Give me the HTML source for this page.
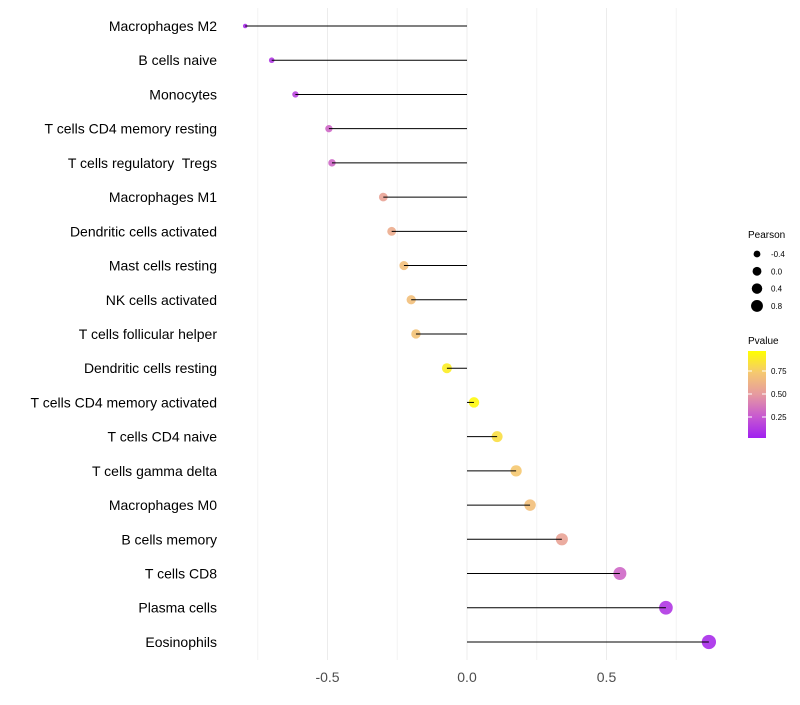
<!DOCTYPE html>
<html><head><meta charset="utf-8"><style>
body{margin:0;background:#fff;font-family:"Liberation Sans",sans-serif}
text{white-space:pre}
</style></head><body>
<svg id="chart" width="800" height="700" xmlns="http://www.w3.org/2000/svg" font-family="Liberation Sans, sans-serif">
<defs><linearGradient id="pg" x1="0" y1="1" x2="0" y2="0">
<stop offset="0" stop-color="#a020f0"/><stop offset="0.25" stop-color="#c85ad0"/><stop offset="0.5" stop-color="#e69aa0"/><stop offset="0.75" stop-color="#f5c870"/><stop offset="1" stop-color="#ffff00"/></linearGradient></defs>
<g id="grid"></g><g id="dots"></g><g id="marks"></g><g id="labels"></g><g id="legend"></g>
</svg>
<script>
const categories=["Macrophages M2","B cells naive","Monocytes","T cells CD4 memory resting","T cells regulatory  Tregs","Macrophages M1","Dendritic cells activated","Mast cells resting","NK cells activated","T cells follicular helper","Dendritic cells resting","T cells CD4 memory activated","T cells CD4 naive","T cells gamma delta","Macrophages M0","B cells memory","T cells CD8","Plasma cells","Eosinophils"];
const pearson=[-0.795,-0.70,-0.615,-0.495,-0.484,-0.30,-0.27,-0.226,-0.20,-0.183,-0.072,0.025,0.108,0.176,0.226,0.34,0.548,0.713,0.867];
const pvalue=[0.05,0.1,0.15,0.3,0.3,0.55,0.6,0.7,0.7,0.72,0.92,0.97,0.85,0.75,0.7,0.55,0.3,0.1,0.05];
const xTicks=[-0.5,0,0.5];
const xTickLabels=["-0.5","0.0","0.5"];
const minorTicks=[-0.75,-0.25,0.25,0.75];
const sizeLegend=[-0.4,0.0,0.4,0.8];
const sizeLegendLabels=["-0.4","0.0","0.4","0.8"];
const colorTicks=[0.25,0.5,0.75];
const colorTickLabels=["0.25","0.50","0.75"];

const NS="http://www.w3.org/2000/svg";
const x=v=>467+v*279;
const y=i=>26+i*34.22;
const r=v=>Math.sqrt(Math.max(3,27+27.5*v));
const stops=[[0,[160,32,240]],[0.25,[200,90,208]],[0.5,[230,154,160]],[0.75,[245,200,112]],[1,[255,255,0]]];
function col(p){for(let k=0;k<stops.length-1;k++){const[a,c1]=stops[k],[b,c2]=stops[k+1];if(p<=b){const t=(p-a)/(b-a);return `rgb(${c1.map((c,j)=>Math.round(c+(c2[j]-c)*t)).join(',')})`;}}return 'rgb(255,255,0)';}
function mk(tag,at,parent){const e=document.createElementNS(NS,tag);for(const k in at)e.setAttribute(k,at[k]);document.getElementById(parent).appendChild(e);return e;}
const plotTop=8,plotBot=660;
minorTicks.forEach(v=>{const l=mk('line',{x1:x(v),x2:x(v),y1:plotTop,y2:plotBot,stroke:'#f4f4f4','stroke-width':1},'grid');

});
xTicks.forEach((v,i)=>{const l=mk('line',{x1:x(v),x2:x(v),y1:plotTop,y2:plotBot,stroke:'#ececec','stroke-width':1},'grid');


const t=mk('text',{x:x(v),y:682,'text-anchor':'middle','font-size':14,fill:'#4d4d4d'},'labels');t.textContent=xTickLabels[i];

});
categories.forEach((c,i)=>{
const t=mk('text',{x:217,y:y(i)+5,'text-anchor':'end','font-size':14,fill:'#000'},'labels');t.textContent=c;


const d=mk('circle',{cx:x(pearson[i]),cy:y(i),r:r(pearson[i]),fill:col(pvalue[i]),opacity:0.9},'dots');


const l=mk('line',{x1:x(0),x2:x(pearson[i]),y1:y(i),y2:y(i),stroke:'#000','stroke-width':1},'marks');

});
const pt=mk('text',{x:748,y:238,'font-size':10,fill:'#000'},'legend');pt.textContent='Pearson';


sizeLegend.forEach((v,i)=>{const cyy=254+i*17.3;
const c=mk('circle',{cx:757,cy:cyy,r:r(v)*0.85,fill:'#000'},'legend');


const t=mk('text',{x:771,y:cyy+3,'font-size':8,fill:'#000'},'legend');t.textContent=sizeLegendLabels[i];

});
const ct=mk('text',{x:748,y:344,'font-size':10,fill:'#000'},'legend');ct.textContent='Pvalue';


const cb=mk('rect',{x:748,y:351,width:18,height:87,fill:'url(#pg)'},'legend');


const cbY=p=>440-p*92;
colorTicks.forEach((p,i)=>{
mk('line',{x1:748,x2:752,y1:cbY(p),y2:cbY(p),stroke:'#fff'},'legend');
mk('line',{x1:762,x2:766,y1:cbY(p),y2:cbY(p),stroke:'#fff'},'legend');
const t=mk('text',{x:771,y:cbY(p)+3,'font-size':8,fill:'#000'},'legend');t.textContent=colorTickLabels[i];

});
</script>
</body></html>
